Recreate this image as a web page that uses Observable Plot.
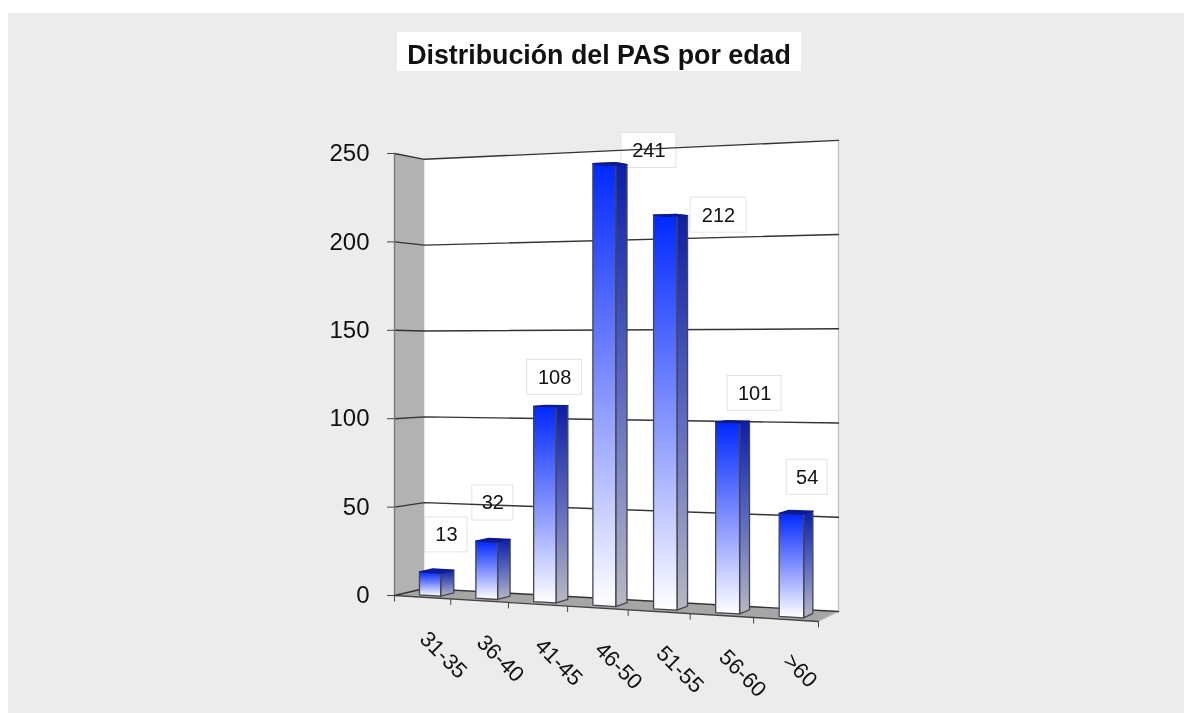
<!DOCTYPE html>
<html lang="es">
<head>
<meta charset="utf-8">
<script src="https://cdn.jsdelivr.net/npm/d3@7"></script>
<script src="https://cdn.jsdelivr.net/npm/@observablehq/plot@0.6"></script>
<style>
  html, body { margin: 0; padding: 0; background: #fff; }
  #sheet { position: absolute; left: 8px; top: 13px; width: 1176px; height: 700px; background: #ececec; overflow: hidden; font-family: "Liberation Sans", Arial, sans-serif; }
  #title { position: absolute; left: 389px; top: 19px; width: 404px; height: 39px; line-height: 46px; margin: 0; background: #fff; text-align: center; font-size: 26.8px; font-weight: 700; color: #111; filter: blur(.5px); white-space: nowrap; overflow: hidden; }
  #chart { position: absolute; left: 0; top: 58px; }
  #chart svg { display: block; filter: blur(.55px); }
</style>
</head>
<body>
<div id="sheet">
  <h1 id="title">Distribución del PAS por edad</h1>
  <div id="chart"></div>
</div>
<script>
// ---- data ----
const categories = ["31-35", "36-40", "41-45", "46-50", "51-55", "56-60", ">60"];
const values = [13, 32, 108, 241, 212, 101, 54];
const valueTicks = [0, 50, 100, 150, 200, 250];

// ---- scale units: x = category slots, y = chart values on the front-left edge ----
const pxX = 424 / 7, pxY = 442 / 250;

// 3D view: (slot, depth 0..1, value) -> flat scale units
const corners = {
  f0: [0, 0, 1], f1: [7, -14.7, 1.097],
  b0: [0.495, 3.96, 0.971], b1: [7.33, -9.05, 1.066]
};
const warp = u => u * (1 - 0.083 * (1 - u));
function project(slot, depth, value) {
  const t = warp(slot / 7);
  const mix = k => {
    const front = corners.f0[k] + (corners.f1[k] - corners.f0[k]) * t;
    const back = corners.b0[k] + (corners.b1[k] - corners.b0[k]) * t;
    return front + (back - front) * depth;
  };
  return { x: mix(0), y: mix(1) + value * mix(2) };
}
const poly = (id, pts) => [...pts, pts[0]].map(p => ({ id, ...project(...p) }));

// bar footprint inside its slot
const barL = 0.315, barR = 0.695, d0 = 0.25, d1 = 0.7;
const frontFaces = [], sideFaces = [], topFaces = [];
values.forEach((v, i) => {
  const l = i + barL, r = i + barR;
  frontFaces.push(...poly(i, [[l, d0, 0], [r, d0, 0], [r, d0, v], [l, d0, v]]));
  sideFaces.push(...poly(i, [[r, d0, 0], [r, d1, 0], [r, d1, v], [r, d0, v]]));
  topFaces.push(...poly(i, [[l, d0, v], [r, d0, v], [r, d1, v], [l, d1, v]]));
});

const leftWall = poly("w", [[0, 0, 0], [0, 1, 0], [0, 1, 250], [0, 0, 250]]);
const backWall = poly("b", [[0, 1, 0], [7, 1, 0], [7, 1, 250], [0, 1, 250]]);
const floor = poly("f", [[0, 0, 0], [7, 0, 0], [7, 1, 0], [0, 1, 0]]);
const gridLines = valueTicks.flatMap(v => [[0, 0, v], [0, 1, v], [7, 1, v]].map(p => ({ id: v, ...project(...p) })));
const frontEdge = [[0, 0, 0], [7, 0, 0]].map(p => project(...p));
const outerEdge = [[0, 0, 0], [0, 0, 250]].map(p => project(...p));
const rightEdge = [[7, 0, 0], [7, 1, 0], [7, 1, 250]].map(p => project(...p));

const slotTicks = d3.range(0, 8).map(s => {
  const p = project(s, 0, 0);
  return { x1: p.x, y1: p.y, x2: p.x, y2: p.y - 6 / pxY };
});
const slotLabels = categories.map((name, i) => ({ name, ...project(i + 0.5, 0, 0) }));

// value label placement, in pixels from the bar's front-top-left corner
const labelNudge = [[27, -37], [17, -38], [21, -29], [56, -13], [65, 0], [39, -29], [28, -36]];
const boxW = [42, 41, 55, 55, 56, 54, 41];
const labels = values.map((v, i) => {
  const c = project(i + barL, d0, v);
  const x = c.x + labelNudge[i][0] / pxX, y = c.y - labelNudge[i][1] / pxY;
  return { v, x, y, x1: x - boxW[i] / 2 / pxX, x2: x + boxW[i] / 2 / pxX, y1: y - 17.5 / pxY, y2: y + 17.5 / pxY };
});

const face = (rows, fill, stroke = "#45454f") => Plot.line(rows, { x: "x", y: "y", z: "id", fill, stroke, strokeWidth: 1.3 });

const chart = Plot.plot({
  width: 1176, height: 642,
  marginLeft: 386, marginRight: 366, marginTop: 82, marginBottom: 118,
  style: { background: "transparent", fontFamily: "'Liberation Sans', Arial, sans-serif", color: "#111" },
  x: { domain: [0, 7], axis: null },
  y: { domain: [0, 250], axis: null },
  marks: [
    face(leftWall, "#b2b2b2", "none"),
    face(backWall, "#ffffff", "none"),
    face(floor, "#a6a6a6", "none"),
    Plot.line(rightEdge, { x: "x", y: "y", stroke: "#c4c4c4", strokeWidth: 1.3 }),
    Plot.rect(labels, { x1: "x1", x2: "x2", y1: "y1", y2: "y2", fill: "#fff", stroke: "#e2e2e2" }),
    Plot.line(gridLines, { x: "x", y: "y", z: "id", stroke: "#333", strokeWidth: 1.4 }),
    Plot.line(outerEdge, { x: "x", y: "y", stroke: "#777", strokeWidth: 1.3 }),
    Plot.line(frontEdge, { x: "x", y: "y", stroke: "#444", strokeWidth: 1.3 }),
    Plot.link(slotTicks, { x1: "x1", y1: "y1", x2: "x2", y2: "y2", stroke: "#444" }),
    Plot.axisY({ ticks: valueTicks, tickSize: 7, tickPadding: 18, fontSize: 24, label: null, stroke: "#444", fill: "#111", tickFormat: d => d }),
    face(sideFaces, "url(#sideGrad)"),
    face(frontFaces, "url(#frontGrad)"),
    face(topFaces, "#0b1a9a", "#0b1a9a"),
    Plot.text(labels, { x: "x", y: "y", text: d => String(d.v), fontSize: 20, fill: "#111" }),
    Plot.text(slotLabels, { x: "x", y: "y", text: "name", rotate: 45, textAnchor: "start", lineAnchor: "middle", dx: 1, dy: 38, fontSize: 22, fill: "#111" })
  ]
});

const defs = d3.select(chart).insert("defs", ":first-child");
function gradient(id, stops) {
  const g = defs.append("linearGradient").attr("id", id).attr("x1", 0).attr("y1", 0).attr("x2", 0).attr("y2", 1);
  stops.forEach(([o, c]) => g.append("stop").attr("offset", o).attr("stop-color", c));
}
gradient("frontGrad", [[0, "#0028ff"], [0.5, "#8090ff"], [1, "#ffffff"]]);
gradient("sideGrad", [[0, "#0b1ea8"], [0.5, "#5a68c0"], [1, "#b8b8c2"]]);

document.getElementById("chart").append(chart);
</script>
</body>
</html>
